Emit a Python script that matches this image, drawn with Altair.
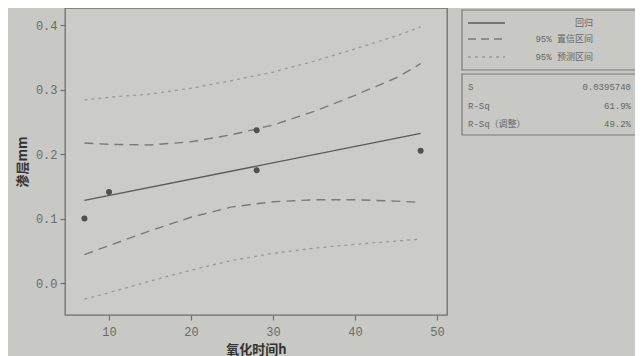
import altair as alt
import pandas as pd

# observed points
obs_x = [7, 10, 28, 28, 48]
obs_y = [0.100, 0.141, 0.237, 0.175, 0.205]

# fitted regression line
fit_x = [7, 48]
fit_y = [0.128, 0.232]

# band curves
band_x = [7, 10, 15, 20, 25, 30, 35, 40, 45, 48]
ci_upper = [0.217, 0.215, 0.214, 0.219, 0.230, 0.245, 0.266, 0.291, 0.318, 0.340]
ci_lower = [0.044, 0.058, 0.081, 0.102, 0.118, 0.126, 0.129, 0.129, 0.127, 0.125]
pi_upper = [0.284, 0.288, 0.293, 0.302, 0.314, 0.327, 0.344, 0.363, 0.383, 0.397]
pi_lower = [-0.025, -0.015, 0.003, 0.020, 0.035, 0.046, 0.054, 0.060, 0.065, 0.068]

x_ticks = [10, 20, 30, 40, 50]
y_ticks = [0.0, 0.1, 0.2, 0.3, 0.4]

legend_labels = ["回归", "95% 置信区间", "95% 预测区间"]
stat_names = ["S", "R-Sq", "R-Sq（调整）"]
stat_values = ["0.0395740", "61.9%", "49.2%"]

FONT = "Liberation Mono, Noto Sans CJK SC"
BG = "#c8c9c4"
W, H = 382, 307

xs = alt.Scale(domain=[4.63, 51.22], nice=False, zero=False)
ys = alt.Scale(domain=[-0.0496, 0.4264], nice=False, zero=False)

xax = alt.Axis(values=x_ticks, title="氧化时间h", grid=False, tickSize=5,
               labelPadding=6, titlePadding=6, format="d")
yax = alt.Axis(values=y_ticks, title="渗层mm", grid=False, tickSize=5,
               labelPadding=3, titlePadding=6, format=".1f")

obs = pd.DataFrame({"x": obs_x, "y": obs_y})
fit = pd.DataFrame({"x": fit_x, "y": fit_y})
bands = pd.DataFrame({"x": band_x, "ciu": ci_upper, "cil": ci_lower,
                      "piu": pi_upper, "pil": pi_lower})

def band(col, dash, color, width):
    return alt.Chart(bands).mark_line(strokeDash=dash, color=color, strokeWidth=width).encode(
        x=alt.X("x:Q", scale=xs, axis=xax),
        y=alt.Y(f"{col}:Q", scale=ys, axis=yax),
    )

layers = [
    band("piu", [3, 4], "#9a9a9a", 1.3),
    band("pil", [3, 4], "#9a9a9a", 1.3),
    band("ciu", [9, 6], "#7a7a7a", 1.4),
    band("cil", [9, 6], "#7a7a7a", 1.4),
    alt.Chart(fit).mark_line(color="#5a5a5a", strokeWidth=1.3).encode(
        x=alt.X("x:Q", scale=xs, axis=xax), y=alt.Y("y:Q", scale=ys, axis=yax)),
    alt.Chart(obs).mark_point(filled=True, color="#505050", size=36, opacity=1).encode(
        x=alt.X("x:Q", scale=xs, axis=xax), y=alt.Y("y:Q", scale=ys, axis=yax)),
]

one = pd.DataFrame({"a": [0]})
# legend boxes
for (y1, y2) in [(2, 62), (66, 127)]:
    layers.append(alt.Chart(one).mark_rect(fill=BG, stroke="#7a7a7a", strokeWidth=1.2).encode(
        x=alt.value(397), x2=alt.value(575), y=alt.value(y1), y2=alt.value(y2)))

row_y = [15, 31, 49]
styles = [([], "#5a5a5a"), ([8, 5], "#7a7a7a"), ([3, 4], "#9a9a9a")]
for lab, yy, (dash, col) in zip(legend_labels, row_y, styles):
    kw = {"strokeDash": dash} if dash else {}
    layers.append(alt.Chart(one).mark_rule(color=col, strokeWidth=1.3, **kw).encode(
        x=alt.value(403), x2=alt.value(440), y=alt.value(yy)))
    layers.append(alt.Chart(pd.DataFrame({"t": [lab]})).mark_text(
        align="right", baseline="middle", font=FONT, fontSize=9, color="#666666").encode(
        x=alt.value(528), y=alt.value(yy), text="t:N"))

stat_y = [79, 98, 116]
for nm, val, yy in zip(stat_names, stat_values, stat_y):
    layers.append(alt.Chart(pd.DataFrame({"t": [nm]})).mark_text(
        align="left", baseline="middle", font=FONT, fontSize=9, color="#666666").encode(
        x=alt.value(403), y=alt.value(yy), text="t:N"))
    layers.append(alt.Chart(pd.DataFrame({"t": [val]})).mark_text(
        align="right", baseline="middle", font=FONT, fontSize=9, color="#666666").encode(
        x=alt.value(566), y=alt.value(yy), text="t:N"))

chart = alt.layer(*layers).properties(
    width=W, height=H,
    autosize=alt.AutoSizeParams(type="none"),
    padding={"left": 57, "top": 0, "right": 188, "bottom": 45},
    background=BG,
).configure_view(
    stroke="#6e6e6e", strokeWidth=1.3, fill="#cbcbc7"
).configure_axis(
    domain=False, tickColor="#707070", tickWidth=1.2,
    labelFont=FONT, labelFontSize=12, labelColor="#6a6a6a",
    titleFont="Noto Sans CJK SC", titleFontSize=13, titleFontWeight="bold",
    titleColor="#333333",
)

chart.save("out.html", embed_options={"renderer": "svg", "actions": False})
